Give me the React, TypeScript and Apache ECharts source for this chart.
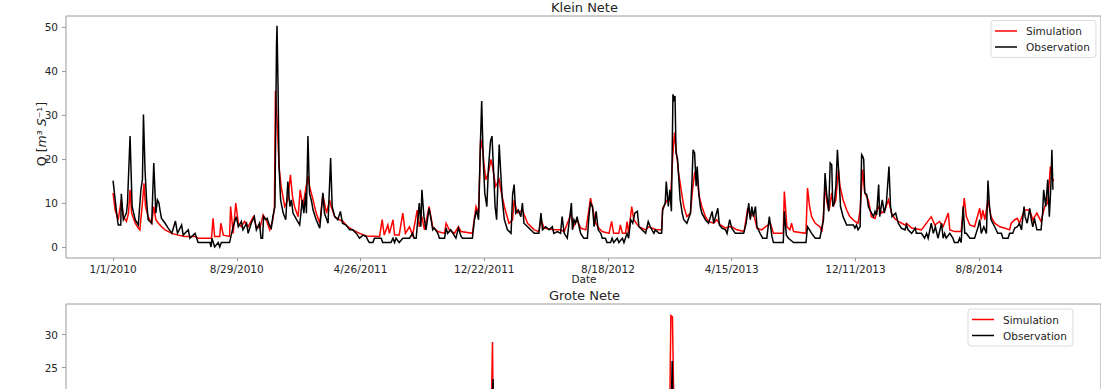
import React, { useEffect, useRef } from "react";
import * as echarts from "echarts";

// Day index counted from 1/1/2010
const tickDays = [0, 240, 480, 720, 960, 1200, 1440, 1680];
const tickLabels = ["1/1/2010", "8/29/2010", "4/26/2011", "12/22/2011", "8/18/2012", "4/15/2013", "12/11/2013", "8/8/2014"];
const kleinTicks = [0, 10, 20, 30, 40, 50];
const groteTicks = [0, 5, 10, 15, 20, 25, 30];
const seriesNames = ["Simulation", "Observation"];

const kleinObs: [number, number][] = [
  [0,15.1],[7,7.7],[10,5],[15,5],[16,12.1],[20,6.2],[26,7.7],[28,10],[33,25.2],[37,9.2],[43,6.2],[49,5],[54,13],[57,15.3],[59,30.1],[62,17.6],[65,10.7],[68,6.2],[75,5.4],[79,19.1],[83,7.7],[86,10.7],[89,10],[91,8.4],[94,6.5],[101,5.4],[107,4.3],[114,3.1],[121,5.9],[125,3.1],[133,5],[136,2.7],[146,3.9],[149,2],[159,3.1],[165,1],[188,1],[190,0],[192,2],[197,0],[204,1],[207,0],[210,1],[226,1],[230,3.1],[233,4.6],[239,6.9],[243,4.6],[249,5.8],[252,3.9],[259,5.4],[262,3.1],[268,5.4],[274,6.9],[278,3.9],[284,5.4],[287,2],[290,2],[292,6.9],[296,6.2],[299,6.5],[303,5],[307,4.3],[310,6.9],[314,9.2],[317,45.7],[318,50.3],[320,36.6],[322,18.3],[325,10.7],[330,7.7],[335,6.2],[339,14.9],[343,9.2],[346,10.7],[349,7.7],[356,6.2],[362,5],[367,10.7],[370,7.7],[374,12.3],[375,7.7],[378,25.2],[381,12.3],[385,10.4],[388,8.4],[394,6.2],[401,4.3],[407,12.3],[410,7.7],[417,5.4],[422,20.2],[425,9.2],[430,6.9],[436,6.2],[441,8.1],[445,5.4],[452,5],[459,3.9],[465,3.9],[472,3.1],[478,2],[485,2.7],[491,2.4],[494,1.6],[497,1],[504,1],[507,2],[520,2],[523,1],[539,1],[543,2],[546,1],[549,2],[555,1],[562,2],[575,2],[581,3.1],[584,2],[588,2],[591,6.2],[594,10],[597,4.6],[599,13],[603,6.9],[607,3.9],[613,8.8],[617,6.2],[620,3.9],[623,4.3],[630,3.1],[633,2],[643,2],[646,4.3],[649,3.1],[655,3.9],[665,2],[670,4.3],[675,2.4],[678,2],[697,2],[701,6.2],[705,8.4],[709,6.2],[712,21.4],[715,33.2],[718,19.9],[721,12.3],[725,9.2],[728,17.6],[732,24],[735,25.2],[738,17.6],[741,9.2],[744,6.2],[749,23.3],[752,16.8],[755,10.7],[759,6.2],[765,3.9],[772,3.1],[775,11.9],[778,14.2],[781,7.7],[786,8.4],[791,6.9],[794,10],[797,5.4],[804,4.6],[810,3.9],[817,3.1],[826,3.1],[830,7.7],[833,3.9],[839,4.6],[846,3.9],[852,4.6],[855,3.1],[862,3.5],[868,3.1],[871,6.9],[875,3.1],[881,2],[886,6.9],[889,10],[891,3.9],[894,6.2],[897,5.4],[900,6.9],[904,4.6],[907,3.1],[913,2],[920,2],[923,6.9],[926,10],[930,9.2],[933,4.6],[937,8.1],[941,3.9],[946,3.1],[949,2],[955,2],[958,1],[965,1],[968,2],[971,1],[978,2],[981,1],[988,2],[991,1],[997,3.1],[1000,2],[1004,6.2],[1008,5.4],[1012,7.7],[1017,8.1],[1020,4.6],[1026,3.9],[1033,3.1],[1038,5.8],[1042,4.6],[1049,3.1],[1052,3.9],[1059,3.1],[1064,3.1],[1066,8.4],[1071,10],[1073,14.9],[1077,9.2],[1080,13],[1083,8.1],[1086,34.7],[1088,33.6],[1090,34.3],[1092,21.4],[1095,19.9],[1097,16.1],[1100,10.7],[1104,7.7],[1107,6.2],[1113,5.4],[1120,7.7],[1123,15.3],[1125,22.1],[1128,21.4],[1131,13.8],[1133,18.3],[1136,12.3],[1139,9.2],[1142,7.7],[1149,6.2],[1155,5.4],[1162,8.1],[1165,5.4],[1173,8.8],[1176,5],[1181,4.3],[1188,3.9],[1191,3.1],[1196,6.2],[1200,4.3],[1207,3.1],[1223,3.1],[1228,5.4],[1233,10],[1236,6.2],[1239,9.2],[1242,6.9],[1246,9.2],[1249,4.6],[1255,3.1],[1260,2],[1268,2],[1273,6.9],[1278,2.4],[1281,1],[1300,1],[1302,8.1],[1306,2.7],[1310,2],[1320,1],[1344,1],[1347,4.6],[1351,3.9],[1355,3.1],[1362,2],[1371,2],[1378,6.2],[1381,16.8],[1384,12.3],[1388,8.1],[1391,19.1],[1394,18.7],[1396,9.2],[1399,10],[1402,13.8],[1405,22.1],[1409,13.8],[1411,9.2],[1416,6.9],[1423,5],[1436,5],[1439,4.3],[1442,5],[1445,3.9],[1449,4.6],[1452,21],[1454,20.6],[1456,19.9],[1458,12.3],[1462,11.9],[1465,9.2],[1468,8.4],[1475,6.9],[1478,8.1],[1481,7.3],[1485,14.2],[1487,6.9],[1492,10.7],[1496,7.7],[1500,10],[1505,18.3],[1508,9.2],[1511,6.9],[1518,7.7],[1523,5.4],[1529,4.3],[1536,3.9],[1539,5],[1542,3.9],[1549,3.1],[1556,4.3],[1558,3.1],[1568,3.1],[1574,2],[1578,3.1],[1581,2],[1587,5.4],[1591,3.1],[1595,4.6],[1600,2],[1607,5.4],[1610,2],[1613,3.1],[1616,2],[1623,3.1],[1629,2],[1632,1],[1639,1],[1642,2],[1645,1],[1649,9.2],[1652,3.1],[1655,3.1],[1662,2],[1671,2],[1674,3.1],[1678,4.6],[1681,6.2],[1684,3.1],[1689,4.6],[1694,3.1],[1697,15.1],[1700,9.2],[1703,6.2],[1710,4.6],[1716,3.1],[1723,3.1],[1726,2],[1736,2],[1739,3.1],[1745,3.1],[1749,4.3],[1754,4.6],[1758,5.4],[1762,3.9],[1767,9.2],[1769,6.9],[1773,5.4],[1778,8.8],[1781,6.2],[1784,4.6],[1787,6.5],[1792,3.9],[1800,3.9],[1803,7.7],[1805,13],[1809,9.2],[1813,15.3],[1816,6.9],[1819,13.8],[1821,22.1],[1823,13],[1824,13],
];

const kleinSim: [number, number][] = [
  [0,12.3],[4,8.4],[10,6.2],[16,10.7],[20,6.9],[26,5.8],[30,7.7],[33,13],[36,7.7],[43,5.4],[49,4.3],[52,3.9],[57,10],[60,14.5],[63,9.2],[68,6.9],[75,5.4],[79,9.2],[83,6.2],[88,5.4],[94,4.6],[101,3.9],[114,3.1],[126,2.7],[139,2.4],[159,2.4],[165,2],[191,2],[194,6.5],[197,2.4],[207,2.4],[209,5.4],[214,2.7],[226,2.4],[228,9.2],[233,3.1],[238,10],[243,5.4],[249,4.6],[255,5.8],[262,4.6],[272,6.9],[278,4.6],[285,4.3],[291,7.3],[297,6.2],[304,3.9],[310,6.2],[313,9],[315,35.5],[318,29],[322,18.3],[326,13.8],[333,9.2],[339,10.7],[344,16.4],[348,11.5],[352,9.2],[359,6.9],[363,13],[368,9.2],[378,16.1],[381,13.8],[388,10.7],[394,7.7],[401,5.4],[407,11.9],[414,7.7],[420,10.7],[423,9.2],[430,6.9],[439,6.2],[446,5.8],[455,4.6],[465,3.9],[478,3.1],[491,2.5],[517,2.4],[522,6.2],[526,2.7],[533,5],[536,3.1],[543,6.2],[546,2.7],[555,2.7],[562,7.7],[567,3.1],[575,4.6],[581,2.7],[586,5.8],[590,8.4],[594,4.6],[599,6.9],[604,3.9],[613,9.2],[620,4.6],[630,3.5],[643,3.1],[646,5.4],[652,3.9],[662,3.1],[670,4.6],[675,3.5],[697,3.1],[704,9.2],[709,7.7],[713,24.4],[717,22.1],[720,18.3],[723,15.3],[728,16.8],[733,19.9],[736,18.3],[742,13.8],[749,15.3],[752,13],[759,9.2],[768,5.4],[775,6.2],[778,10.7],[784,7.7],[794,8.4],[804,5.4],[817,3.9],[826,3.5],[830,6.2],[836,4.3],[855,3.9],[868,3.9],[875,3.5],[884,6.2],[888,7.7],[893,4.6],[900,6.2],[907,4.3],[917,3.9],[923,8.4],[926,11.1],[931,8.4],[936,5.4],[942,4.3],[949,3.5],[962,3.1],[967,5.8],[971,3.1],[981,3.1],[984,5],[988,3.1],[994,3.1],[997,5.8],[1000,3.1],[1006,9.2],[1010,6.2],[1020,4.6],[1033,3.9],[1039,4.6],[1052,4],[1064,3.9],[1066,8.8],[1075,10.7],[1081,10.4],[1086,21.4],[1089,26],[1092,22.1],[1095,19.1],[1097,16.8],[1102,13],[1107,9.2],[1113,6.9],[1120,7.7],[1124,13],[1128,16.8],[1133,16.1],[1137,11.5],[1142,9.2],[1149,6.9],[1155,5.8],[1165,5.4],[1171,6.2],[1178,5],[1188,4.3],[1194,4.6],[1200,4.6],[1210,3.9],[1224,3.5],[1231,8.8],[1236,6.9],[1242,7.7],[1249,4.3],[1258,3.9],[1275,5.4],[1281,3.1],[1300,3.1],[1302,12.6],[1307,4.6],[1313,3.9],[1316,5.4],[1320,3.5],[1344,3.1],[1347,13.4],[1351,9.2],[1355,6.9],[1362,5.4],[1371,4.6],[1375,3.5],[1378,7.7],[1381,13.8],[1385,10],[1389,8.4],[1394,12.3],[1397,9.2],[1402,10.7],[1407,17.6],[1410,13.8],[1416,10.7],[1423,8.4],[1429,6.9],[1439,5.8],[1445,5.4],[1449,8.4],[1454,17.6],[1458,12.3],[1465,10.7],[1471,6.9],[1478,6.5],[1484,9.2],[1491,7.7],[1497,8.4],[1504,10.7],[1510,7.7],[1516,6.5],[1523,5.8],[1536,5],[1539,5.4],[1549,4.3],[1568,3.9],[1587,6.9],[1594,5],[1603,5.8],[1610,4.6],[1620,7.7],[1623,3.9],[1633,3.5],[1645,3.5],[1651,11.1],[1655,6.9],[1662,5],[1671,4.6],[1681,8.8],[1684,6.2],[1687,8.4],[1691,6.2],[1697,10.7],[1703,6.9],[1710,5.4],[1720,4.6],[1729,4.3],[1739,3.9],[1742,5.4],[1749,6.2],[1754,6.5],[1758,5.4],[1768,8.4],[1778,8.4],[1784,6.2],[1792,7.7],[1800,5.8],[1807,9.2],[1813,10],[1818,18.3],[1821,16.1],[1823,14.9],[1824,15.5],
];

const groteSim: [number, number][] = [
  [0,9],[30,14],[60,18],[120,7],[200,4],[318,20],[340,12],[400,9],[500,5],[600,6],[700,8],[728,14],[734,20],[736,28.9],[737.5,15],[760,10],[800,7],[900,6],[1000,7],[1075,16],[1080,20],[1082,32.9],[1085,32.7],[1088,18],[1130,14],[1200,8],[1300,6],[1400,12],[1460,11],[1550,6],[1650,5],[1750,7],[1824,12],
];

const groteObs: [number, number][] = [
  [0,8],[30,12],[60,16],[120,6],[200,3],[318,19],[340,11],[400,8],[500,4],[600,5],[700,7],[728,12],[735,18],[737,23.3],[739,14],[760,9],[800,6],[900,5],[1000,6],[1075,14],[1083,20],[1084.5,26],[1086,19],[1130,12],[1200,7],[1300,5],[1400,11],[1460,10],[1550,5],[1650,4],[1750,6],[1824,11],
];

const TXT = "#262626";
const FRAME = "#9a9a9a";
const FONT = "DejaVu Sans";
const VIEW_H = 389;

export default function App() {
  const ref = useRef<HTMLDivElement>(null);
  useEffect(() => {
    if (!ref.current) return;
    const chart = echarts.init(ref.current, null, { renderer: "svg" });
    const gridLeft = 66;
    const gridWidth = 1037;
    const xMin = -91.25;
    const xMax = 1916.25;
    const grids = [
      { top: 16, height: 242, yMin: -2.5, yMax: 52.5 },
      { top: 304, height: 239.6, yMin: -1.65, yMax: 34.65 },
    ];
    // only label ticks that fall inside the visible page
    const visibleTicks = (gi: number, ticks: number[]) => {
      const g = grids[gi];
      return ticks.filter((v) => g.top + ((g.yMax - v) / (g.yMax - g.yMin)) * g.height + 7 < VIEW_H);
    };
    const labelFor = (v: number) => {
      const i = tickDays.indexOf(Math.round(v));
      return i >= 0 ? tickLabels[i] : "";
    };
    const makeX = (gi: number) => ({
      type: "value",
      gridIndex: gi,
      min: xMin,
      max: xMax,
      axisLine: { show: false, onZero: false },
      splitLine: { show: false },
      axisTick: { show: true, customValues: tickDays, length: 3, lineStyle: { color: FRAME } },
      axisLabel: { show: gi === 0, customValues: tickDays, formatter: labelFor, color: TXT, fontSize: 10.5, fontFamily: FONT, margin: 5 },
    });
    const makeY = (gi: number, ticks: number[]) => ({
      type: "value",
      gridIndex: gi,
      min: grids[gi].yMin,
      max: grids[gi].yMax,
      axisLine: { show: false, onZero: false },
      splitLine: { show: false },
      axisTick: { show: true, customValues: ticks, length: 4, lineStyle: { color: FRAME } },
      axisLabel: { customValues: visibleTicks(gi, ticks), color: TXT, fontSize: 10.5, fontFamily: FONT, margin: 8 },
    });
    const legendBase = {
      data: seriesNames,
      orient: "vertical",
      icon: "rect",
      padding: [4, 6, 4, 4],
      itemWidth: 22,
      itemHeight: 1.5,
      itemGap: 3,
      backgroundColor: "#ffffff",
      borderColor: "#dcdcdc",
      borderWidth: 1,
      borderRadius: 3,
      textStyle: { fontSize: 10.5, fontFamily: FONT, color: TXT, lineHeight: 13, padding: [0, 0, 0, 4] },
    };
    const line = (name: string, color: string, data: [number, number][], gi: number) => ({
      name,
      type: "line",
      xAxisIndex: gi,
      yAxisIndex: gi,
      data,
      symbol: "none",
      showSymbol: false,
      lineStyle: { color, width: 1.5, join: "miter" },
      itemStyle: { color },
      clip: true,
    });
    chart.setOption({
      animation: false,
      backgroundColor: "#ffffff",
      textStyle: { fontFamily: FONT },
      title: [
        { text: "Klein Nete", left: 584.5, top: 1, textAlign: "center", padding: 0, textStyle: { fontSize: 13, fontWeight: "normal", color: TXT, fontFamily: FONT } },
        { text: "Grote Nete", left: 584.5, top: 289, textAlign: "center", padding: 0, textStyle: { fontSize: 13, fontWeight: "normal", color: TXT, fontFamily: FONT } },
      ],
      grid: grids.map((g) => ({
        left: gridLeft,
        top: g.top,
        width: gridWidth,
        height: g.height,
        show: true,
        borderColor: FRAME,
        borderWidth: 1,
        backgroundColor: "transparent",
        containLabel: false,
      })),
      xAxis: [makeX(0), makeX(1)],
      yAxis: [makeY(0, kleinTicks), makeY(1, groteTicks)],
      legend: [
        { ...legendBase, left: 991, top: 20.5 },
        { ...legendBase, left: 968, top: 309 },
      ],
      graphic: [
        {
          type: "text",
          x: 41.5,
          y: 134,
          rotation: Math.PI / 2,
          style: {
            text: "{a|Q [}{i|m}{a|³ }{i|S}{a|⁻¹]}",
            textAlign: "center",
            textVerticalAlign: "middle",
            rich: {
              a: { fontSize: 12.5, fontFamily: FONT, fill: TXT },
              i: { fontSize: 12.5, fontFamily: FONT, fontStyle: "italic", fill: TXT },
            },
          },
        },
        {
          type: "text",
          x: 584,
          y: 279,
          style: { text: "Date", textAlign: "center", textVerticalAlign: "middle", fontSize: 10.5, fontFamily: FONT, fill: TXT },
        },
      ],
      series: [
        line("Simulation", "#ff0000", kleinSim, 0),
        line("Observation", "#000000", kleinObs, 0),
        line("Simulation", "#ff0000", groteSim, 1),
        line("Observation", "#000000", groteObs, 1),
      ],
    });
    return () => chart.dispose();
  }, []);
  return (
    <div style={{ position: "absolute", left: 0, top: 0, width: 1101, height: VIEW_H, overflow: "hidden", background: "#fff" }}>
      <div ref={ref} style={{ width: 1101, height: 620 }} />
    </div>
  );
}
